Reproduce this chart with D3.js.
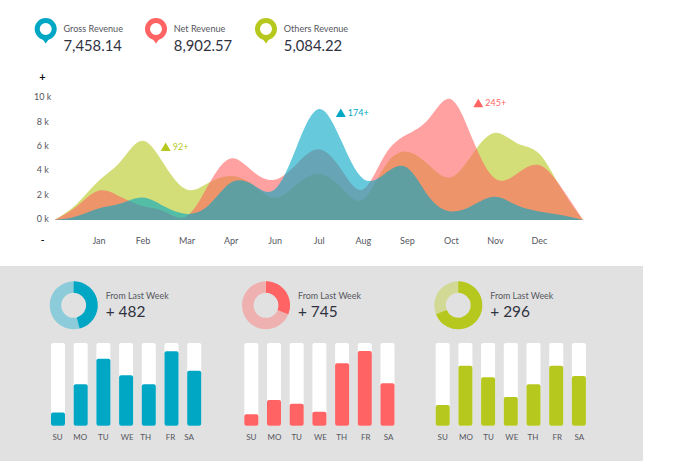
<!DOCTYPE html>
<html>
<head>
<meta charset="utf-8">
<script src="https://cdn.jsdelivr.net/npm/d3@7"></script>
<style>
  html, body { margin: 0; padding: 0; background: #fff; }
  svg { display: block; }
  text { font-family: Lato, sans-serif; fill: #55565e; }
</style>
</head>
<body>
<svg id="chart" width="680" height="461"></svg>
<script>
// area chart data, in thousands, read at every month and half month
var months = ["Jan", "Feb", "Mar", "Apr", "Jun", "Jul", "Aug", "Sep", "Oct", "Nov", "Dec"];
var yTicks = [0, 2, 4, 6, 8, 10];
var knots = d3.range(-1, 11.5, 0.5);
var othersArea = [0, 1.3, 3.2, 4.8, 6.5, 4.5, 2.5, 3.05, 3.6, 2.9, 1.8, 2.9, 3.8, 2.7, 1.65, 4.4, 5.6, 4.5, 3.5, 5.45, 7.15, 6.3, 5.45, 2.6, 0];
var netArea = [0, 1.1, 2.4, 1.9, 1.15, 0.7, 0.3, 2.9, 5.05, 4, 3.3, 4.6, 5.8, 4.2, 2.5, 5.3, 7, 8.3, 9.9, 6.55, 3.4, 3.8, 4.5, 2.7, 0];
var grossArea = [0, 0.3, 0.95, 1.35, 1.85, 1.1, 0.5, 1.2, 3.05, 2.9, 2.5, 6, 9.1, 6.6, 3.4, 3.8, 4.3, 1.9, 0.7, 1.2, 1.9, 1.2, 0.7, 0.4, 0];

// weekly bars, share of the white track
var days = ["SU", "MO", "TU", "WE", "TH", "FR", "SA"];
var grossWeek = [0.16, 0.5, 0.81, 0.61, 0.5, 0.9, 0.665];
var netWeek = [0.137, 0.31, 0.266, 0.17, 0.754, 0.903, 0.512];
var othersWeek = [0.25, 0.726, 0.585, 0.347, 0.5, 0.726, 0.6];

// donut shares
var grossShare = 0.46;
var netShare = 0.31;
var othersShare = 0.69;

var BLUE = "#00a7c4", RED = "#ff6363", OLIVE = "#b6c81e";
var svg = d3.select("#chart");
var DARK = "#30323f";

// headline pins
var headers = [
  { name: "Gross Revenue", value: "7,458.14", color: BLUE, x: 45.7 },
  { name: "Net Revenue", value: "8,902.57", color: RED, x: 156 },
  { name: "Others Revenue", value: "5,084.22", color: OLIVE, x: 266 }
];
headers.forEach(function (h) {
  var g = svg.append("g").attr("transform", "translate(" + h.x + ",29)");
  g.append("path").attr("d", "M-4,9 L0,14.5 L4,9 Z").attr("fill", h.color);
  g.append("circle").attr("r", 8.5).attr("fill", "#fff").attr("stroke", h.color).attr("stroke-width", 5);
  g.append("text").attr("x", 17.8).attr("y", 3).attr("font-size", 9.1).text(h.name);
  g.append("text").attr("x", 17.8).attr("y", 22).attr("font-size", 14.8).style("fill", DARK).text(h.value);
});

// area chart
var x = d3.scaleLinear().domain([0, 10]).range([98.5, 539]);
var y = d3.scaleLinear().domain([0, 10]).range([220, 98]);

var area = d3.area()
  .x(function (d, i) { return x(knots[i]); })
  .y0(y(0))
  .y1(function (d) { return y(d); })
  .curve(d3.curveNatural);

svg.append("clipPath").attr("id", "plot").append("rect").attr("x", 40).attr("y", 60).attr("width", 600).attr("height", 160);

[[othersArea, OLIVE], [netArea, RED], [grossArea, BLUE]].forEach(function (s) {
  svg.append("path").attr("d", area(s[0])).attr("fill", s[1]).attr("fill-opacity", 0.6).attr("clip-path", "url(#plot)");
});

var yAxis = d3.axisLeft(y).tickValues(yTicks).tickSize(0).tickFormat(function (d) { return d + " k"; });
var yG = svg.append("g").attr("transform", "translate(42.7,-1.2)").call(yAxis);
yG.select(".domain").remove();
yG.selectAll("text").attr("x", 0).attr("text-anchor", "middle").attr("font-size", 9).style("font-family", "Lato, sans-serif");

var xAxis = d3.axisBottom(x).tickValues(d3.range(months.length)).tickSize(0).tickFormat(function (d) { return months[d]; });
var xG = svg.append("g").attr("transform", "translate(0,238)").call(xAxis);
xG.select(".domain").remove();
xG.selectAll("text").attr("y", 0).attr("dy", "0.71em").attr("font-size", 9).style("font-family", "Lato, sans-serif");

// zoom marks beside the y axis
svg.append("text").attr("x", 42.5).attr("y", 81).attr("text-anchor", "middle").attr("font-size", 11).attr("font-weight", 700).style("fill", "#111").text("+");
svg.append("text").attr("x", 42.5).attr("y", 243).attr("text-anchor", "middle").attr("font-size", 10).attr("font-weight", 700).style("fill", "#111").text("-");

// peak notes
var notes = [
  { label: "92+", color: OLIVE, x: 165.7, y: 147 },
  { label: "174+", color: BLUE, x: 340.8, y: 113 },
  { label: "245+", color: RED, x: 478.3, y: 103.3 }
];
notes.forEach(function (n) {
  var g = svg.append("g").attr("transform", "translate(" + n.x + "," + n.y + ")");
  g.append("path").attr("d", "M-5,4 L0,-4.5 L5,4 Z").attr("fill", n.color);
  g.append("text").attr("x", 7).attr("y", 3).attr("font-size", 9).style("fill", n.color).text(n.label);
});

// lower panel
svg.append("rect").attr("x", 0).attr("y", 266).attr("width", 643).attr("height", 195).attr("fill", "#e1e1e1");

var panels = [
  { values: grossWeek, share: grossShare, color: BLUE, pale: "#8ccbd9", delta: "+ 482", cx: 73.7, left: 51, nudge: [-0.5, -0.5, 0, 1, -3, -1, -5] },
  { values: netWeek, share: netShare, color: RED, pale: "#efb0b0", delta: "+ 745", cx: 266, left: 244.3, nudge: [0, 0.5, 0, 1, -0.5, 1, 1] },
  { values: othersWeek, share: othersShare, color: OLIVE, pale: "#d2d994", delta: "+ 296", cx: 458.3, left: 435.7, nudge: [0, 0.5, 0.5, 1, -0.5, 1, 0.5] }
];

var arc = d3.arc().innerRadius(12.5).outerRadius(24);
var barH = d3.scaleLinear().domain([0, 1]).range([0, 82.7]);

panels.forEach(function (p) {
  var donut = svg.append("g").attr("transform", "translate(" + p.cx + ",305.3)");
  donut.append("path").attr("d", arc({ startAngle: 0, endAngle: Math.PI * 2 })).attr("fill", p.pale);
  donut.append("path").attr("d", arc({ startAngle: 0, endAngle: Math.PI * 2 * p.share })).attr("fill", p.color);

  svg.append("text").attr("x", p.cx + 32).attr("y", 298.5).attr("font-size", 8.9).text("From Last Week");
  svg.append("text").attr("x", p.cx + 32).attr("y", 317).attr("font-size", 15.4).style("fill", DARK).text(p.delta);

  var bx = d3.scaleBand().domain(days).range([p.left, p.left + 22.7 * 6 + 14]).paddingInner(0.383).paddingOuter(0);
  days.forEach(function (day, i) {
    var h = barH(p.values[i]);
    svg.append("rect").attr("x", bx(day)).attr("y", 343).attr("width", bx.bandwidth()).attr("height", barH(1)).attr("rx", 2).attr("fill", "#fff");
    svg.append("rect").attr("x", bx(day)).attr("y", 343 + barH(1) - h).attr("width", bx.bandwidth()).attr("height", h).attr("rx", 2).attr("fill", p.color);
    svg.append("text").attr("x", bx(day) + 7 + p.nudge[i]).attr("y", 440).attr("text-anchor", "middle").attr("font-size", 8).text(day);
  });
});
</script>
</body>
</html>
